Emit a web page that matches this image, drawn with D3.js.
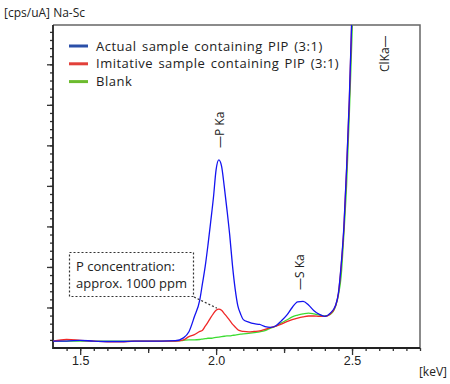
<!DOCTYPE html>
<html>
<head>
<meta charset="utf-8">
<script src="https://cdn.jsdelivr.net/npm/d3@7"></script>
<style>
    html, body { margin: 0; padding: 0; background: #fff; }
    svg { display: block; font-family: "Open Sans", "Noto Sans", sans-serif; }
</style>
</head>
<body>
<div class="svg-container"></div>
<script>
// Data (energy in keV, intensity in units of one major y tick)
const energies = [1.40, 1.45, 1.50, 1.55, 1.60, 1.65, 1.70, 1.75, 1.80, 1.85,
    1.88, 1.90, 1.92, 1.94,
    1.95, 1.96, 1.97, 1.98, 1.99, 2.00, 2.01, 2.02, 2.03, 2.04, 2.05, 2.06, 2.07, 2.08, 2.09, 2.10,
    2.12, 2.14, 2.16, 2.18, 2.20, 2.22, 2.24, 2.26, 2.28, 2.30, 2.32, 2.34, 2.36, 2.38, 2.40, 2.42, 2.44,
    2.45, 2.46, 2.47, 2.48, 2.49, 2.50, 2.51];

const actualValues = [0.17, 0.17, 0.19, 0.17, 0.16, 0.16, 0.17, 0.17, 0.17, 0.18,
    0.25, 0.40, 0.77, 1.19,
    1.60, 2.02, 2.54, 3.11, 3.70, 4.40, 4.64, 4.49, 3.98, 3.41, 2.79, 2.05, 1.46, 1.04, 0.84, 0.70,
    0.64, 0.60, 0.58, 0.53, 0.51, 0.55, 0.67, 0.81, 1.00, 1.14, 1.15, 1.06, 0.92, 0.83, 0.78, 0.86, 1.06,
    1.36, 2.05, 2.99, 4.44, 6.15, 8.35, 10.0];

const imitativeValues = [0.17, 0.21, 0.19, 0.17, 0.15, 0.15, 0.17, 0.17, 0.17, 0.17,
    0.20, 0.28, 0.33, 0.41,
    0.44, 0.54, 0.64, 0.75, 0.85, 0.93, 0.96, 0.93, 0.85, 0.77, 0.68, 0.59, 0.52, 0.45, 0.42, 0.41,
    0.40, 0.41, 0.42, 0.46, 0.50, 0.54, 0.59, 0.65, 0.70, 0.74, 0.77, 0.79, 0.79, 0.78, 0.78, 0.84, 1.05,
    1.35, 2.02, 2.95, 4.40, 6.10, 8.30, 10.0];

const blankValues = [0.17, 0.17, 0.17, 0.17, 0.17, 0.17, 0.17, 0.17, 0.17, 0.17,
    0.19, 0.20, 0.20, 0.21,
    0.22, 0.23, 0.24, 0.24, 0.25, 0.26, 0.27, 0.28, 0.29, 0.30, 0.30, 0.31, 0.32, 0.33, 0.34, 0.35,
    0.36, 0.38, 0.40, 0.43, 0.49, 0.54, 0.62, 0.69, 0.77, 0.81, 0.84, 0.86, 0.84, 0.81, 0.79, 0.83, 1.04,
    1.31, 1.78, 2.81, 4.02, 5.75, 7.73, 9.7];

const seriesNames = ['Actual sample containing PIP (3:1)', 'Imitative sample containing PIP (3:1)', 'Blank'];
const xTickValues = [1.5, 2.0, 2.5];
const xTickLabels = ['1.5', '2.0', '2.5'];
const peakNames = ['P Ka', 'S Ka', 'ClKa'];
const peakEnergies = [2.013, 2.307, 2.622];
const noteLines = ['P concentration:', 'approx. 1000 ppm'];

/**
 * Spectrum Manager
 *          draws the XRF spectrum (Na-Sc) with its legend and peak marks
 */
const spectrumManager = (() => {
    // Constant
    const SCREEN = Object.assign({}, {
        WIDTH: 450,
        HEIGHT: 384
    });

    const PLOT = {
        LEFT: 53,
        RIGHT: 420,
        TOP: 25,
        BOTTOM: 348
    };

    const LINE_COLORS = ['#1414f0', '#f02828', '#3cdc32'];
    const LEGEND_COLORS = ['#2a4fa8', '#e2403a', '#6cbb2e'];

    let x, y;

    /**
     * Init SVG
     * @return {Object} svg
     */
    const initSVG = () => {
        let svg = d3.select('.svg-container').append('svg')
                    .attr('width', SCREEN.WIDTH)
                    .attr('height', SCREEN.HEIGHT);

        x = d3.scaleLinear().domain([1.4, 2.75]).range([PLOT.LEFT, PLOT.RIGHT]);
        y = d3.scaleLinear().domain([0, 7.97]).range([PLOT.BOTTOM, PLOT.TOP]);

        return svg;
    };

    /**
     * Draw the frame and the axes (major, medium and minor ticks)
     * @param {Object} svg
     */
    const drawAxes = (svg) => {
        // top and right border of the frame
        svg.append('path')
           .attr('d', `M${PLOT.LEFT},${PLOT.TOP}H${PLOT.RIGHT}V${PLOT.BOTTOM}`)
           .attr('fill', 'none')
           .attr('stroke', '#666')
           .attr('stroke-width', 1.5);

        const xMinor = d3.range(1.45, 2.751, 0.05);
        const xMid = [1.75, 2.25];
        const yMajor = d3.range(1, 8);
        const yMinor = d3.range(0.2, 7.9, 0.2);

        const bottom = (values, size, labels) => {
            let g = svg.append('g')
                       .attr('transform', `translate(0, ${PLOT.BOTTOM})`)
                       .call(d3.axisBottom(x)
                               .tickValues(values)
                               .tickSize(size)
                               .tickSizeOuter(0)
                               .tickFormat((d, i) => labels ? labels[i] : ''));
            g.selectAll('line').attr('stroke', '#333').attr('stroke-width', 1.3);
            g.select('.domain').remove();
            return g;
        };
        bottom(xMinor, 3);
        bottom(xMid, 5);
        let labelled = bottom(xTickValues, 7, xTickLabels);
        labelled.selectAll('text')
                .attr('font-size', 12.5)
                .attr('fill', '#222')
                .attr('dy', '0.55em');

        const left = (values, size) => {
            let g = svg.append('g')
                       .attr('transform', `translate(${PLOT.LEFT}, 0)`)
                       .call(d3.axisLeft(y).tickValues(values).tickSize(size).tickFormat(''));
            g.selectAll('line').attr('stroke', '#333').attr('stroke-width', 1.3);
            g.select('.domain').remove();
        };
        left(yMinor, 3);
        left(yMajor, 6);

        // axis lines
        svg.append('path')
           .attr('d', `M${PLOT.LEFT},${PLOT.TOP}V${PLOT.BOTTOM}H${PLOT.RIGHT}`)
           .attr('fill', 'none')
           .attr('stroke', '#222')
           .attr('stroke-width', 1.8);

        svg.append('text')
           .attr('x', 4)
           .attr('y', 17)
           .attr('font-size', 12)
           .attr('fill', '#222')
           .text('[cps/uA] Na-Sc');

        svg.append('text')
           .attr('x', 447)
           .attr('y', 376)
           .attr('text-anchor', 'end')
           .attr('font-size', 12)
           .attr('fill', '#222')
           .text('[keV]');
    };

    /**
     * Draw the three spectra
     * @param {Object} svg
     */
    const drawSeries = (svg) => {
        svg.append('clipPath').attr('id', 'plot-clip')
           .append('rect')
           .attr('x', PLOT.LEFT)
           .attr('y', PLOT.TOP)
           .attr('width', PLOT.RIGHT - PLOT.LEFT)
           .attr('height', PLOT.BOTTOM - PLOT.TOP);

        const line = d3.line()
                       .x((d, i) => x(energies[i]))
                       .y(d => y(d))
                       .curve(d3.curveMonotoneX);

        // blank below, actual sample on top
        const layers = [[blankValues, 2], [imitativeValues, 1], [actualValues, 0]];
        svg.append('g')
           .attr('clip-path', 'url(#plot-clip)')
           .selectAll('path')
           .data(layers)
           .enter()
           .append('path')
           .attr('d', d => line(d[0]))
           .attr('fill', 'none')
           .attr('stroke', d => LINE_COLORS[d[1]])
           .attr('stroke-width', 1.3)
           .attr('stroke-linejoin', 'round');
    };

    /**
     * Draw Legend
     * @param {Object} svg
     */
    const drawLegend = (svg) => {
        let rows = svg.append('g')
                      .selectAll('g')
                      .data(seriesNames)
                      .enter()
                      .append('g')
                      .attr('transform', (d, i) => `translate(69, ${46 + i * 17.8})`);

        rows.append('line')
            .attr('x1', 0)
            .attr('x2', 19)
            .attr('stroke', (d, i) => LEGEND_COLORS[i])
            .attr('stroke-width', 3);

        rows.append('text')
            .attr('x', 27)
            .attr('dy', '0.36em')
            .attr('font-size', 13)
            .attr('letter-spacing', 0.5)
            .attr('word-spacing', 1.5)
            .attr('fill', '#222')
            .text(d => d);
    };

    /**
     * Draw peak marks and the concentration note
     * @param {Object} svg
     */
    const drawAnnotations = (svg) => {
        const marks = [
            { text: '\u2014' + peakNames[0], base: 148 },
            { text: '\u2014' + peakNames[1], base: 290 },
            { text: peakNames[2] + '\u2014', base: 72 }
        ];
        svg.append('g')
           .selectAll('text')
           .data(marks)
           .enter()
           .append('text')
           .attr('transform', (d, i) => `translate(${x(peakEnergies[i]) + 4}, ${d.base}) rotate(-90)`)
           .attr('font-size', 12)
           .attr('fill', '#222')
           .text(d => d.text);

        // note box with dotted leader to the imitative P peak
        let note = svg.append('g');
        note.append('rect')
            .attr('x', 69.5)
            .attr('y', 252.5)
            .attr('width', 124)
            .attr('height', 44)
            .attr('fill', '#fff')
            .attr('stroke', '#333')
            .attr('stroke-width', 1.2)
            .attr('stroke-dasharray', '2,2');

        note.selectAll('text')
            .data(noteLines)
            .enter()
            .append('text')
            .attr('x', 76)
            .attr('y', (d, i) => 271 + i * 17)
            .attr('font-size', 13)
            .attr('fill', '#222')
            .text(d => d);

        note.append('line')
            .attr('x1', 194)
            .attr('y1', 297)
            .attr('x2', x(energies[20]) - 2)
            .attr('y2', y(imitativeValues[20]) - 1)
            .attr('stroke', '#333')
            .attr('stroke-width', 1.2)
            .attr('stroke-dasharray', '2,2');
    };

    /**
     * Init
     *      draw everything
     */
    const init = () => {
        let svg = initSVG();
        drawAxes(svg);
        drawSeries(svg);
        drawLegend(svg);
        drawAnnotations(svg);
    };

    return {
        init: init
    };
})();

spectrumManager.init();
</script>
</body>
</html>
